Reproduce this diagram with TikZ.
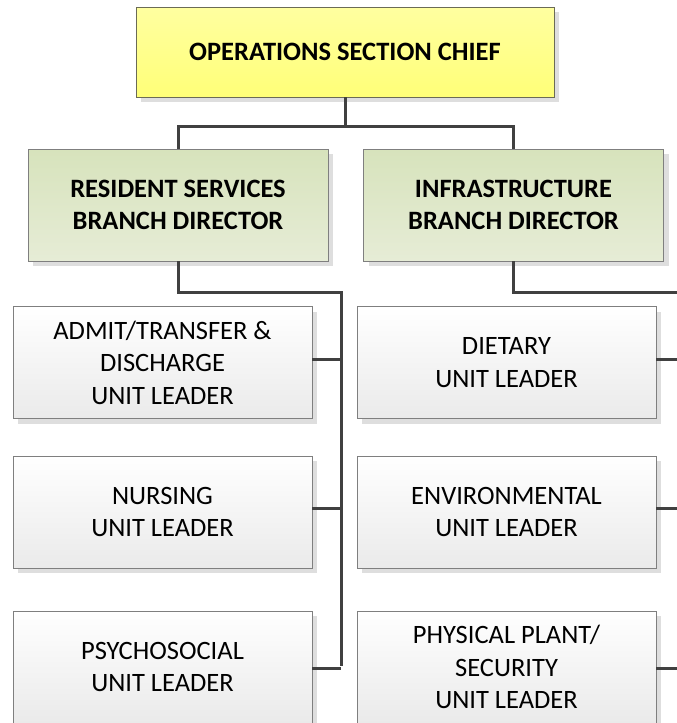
\documentclass[tikz,border=0pt]{standalone}
\usepackage{fontspec}
\setmainfont{Carlito}
\usetikzlibrary{shadows}
\definecolor{conn}{HTML}{404040}
\definecolor{boxline}{HTML}{7F7F7F}
\definecolor{chiefline}{HTML}{6B6B55}
\begin{document}
\begin{tikzpicture}[x=1pt,y=-1pt,
  base/.style={rectangle, inner sep=0pt, align=center, text=black,
    font=\fontsize{26.5}{32.5}\selectfont,
    drop shadow={shadow xshift=5pt, shadow yshift=-5pt, fill=black!13, opacity=1}},
  chief/.style={base, draw=chiefline, line width=0.8pt, top color={rgb,255:red,255;green,255;blue,160}, bottom color={rgb,255:red,255;green,255;blue,120},
    minimum width=418pt, minimum height=90pt, font=\bfseries\fontsize{26.5}{32.5}\selectfont},
  branch/.style={base, draw=boxline, line width=0.8pt, top color={rgb,255:red,215;green,227;blue,188}, bottom color={rgb,255:red,230;green,236;blue,214},
    minimum width=300pt, minimum height=112pt, font=\bfseries\fontsize{26.5}{32.5}\selectfont},
  unitbox/.style={base, draw=boxline, line width=0.8pt, top color=white, bottom color={rgb,255:red,234;green,234;blue,234},
    minimum width=299pt, minimum height=112pt},
  link/.style={draw=conn, line width=3pt}
]
\clip (0,0) rectangle (677,723);
\fill[white] (0,0) rectangle (677,723);

\node[chief] (chief) at (345,52) {OPERATIONS SECTION CHIEF};
\node[branch] (res) at (178,205) {RESIDENT SERVICES\\BRANCH DIRECTOR};
\node[branch] (inf) at (513.5,205) {INFRASTRUCTURE\\BRANCH DIRECTOR};

\node[unitbox] (adm) at (162.5,362.5) {ADMIT/TRANSFER \&\\DISCHARGE\\UNIT LEADER};
\node[unitbox] (nur) at (162.5,512) {NURSING\\UNIT LEADER};
\node[unitbox] (psy) at (162.5,667) {PSYCHOSOCIAL\\UNIT LEADER};

\node[unitbox] (die) at (506.5,362.5) {DIETARY\\UNIT LEADER};
\node[unitbox] (env) at (506.5,512) {ENVIRONMENTAL\\UNIT LEADER};
\node[unitbox] (phy) at (506.5,667) {PHYSICAL PLANT/\\SECURITY\\UNIT LEADER};

\coordinate (tbus) at (345,126);
\coordinate (lbus) at (341,292);
\coordinate (lbusend) at (341,666);
\coordinate (rbus) at (690,292);

\draw[link] (chief.south) -- (tbus);
\draw[link] (tbus) -| (res.north);
\draw[link] (tbus) -| (inf.north);

\draw[link] (res.south) |- (lbus) -- (lbusend);
\draw[link] (inf.south) |- (rbus);

\draw[link] ([yshift=3.5pt]adm.east) -- ([yshift=3.5pt]adm.east -| lbus);
\draw[link] ([yshift=3.5pt]nur.east) -- ([yshift=3.5pt]nur.east -| lbus);
\draw[link] ([yshift=-1.5pt]psy.east) -- ([yshift=-1.5pt]psy.east -| lbus);

\draw[link] ([yshift=3.5pt]die.east) -- ([yshift=3.5pt]die.east -| rbus);
\draw[link] ([yshift=3.5pt]env.east) -- ([yshift=3.5pt]env.east -| rbus);
\draw[link] ([yshift=-1.5pt]phy.east) -- ([yshift=-1.5pt]phy.east -| rbus);
\end{tikzpicture}
\end{document}
